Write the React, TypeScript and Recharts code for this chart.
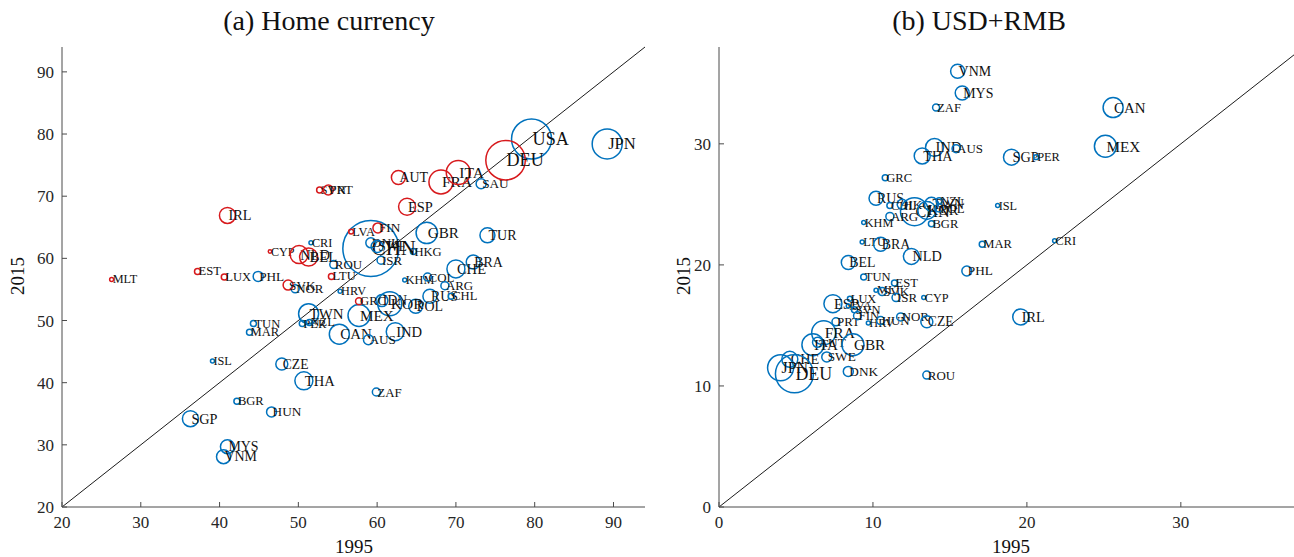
import React from "react";
import { ScatterChart, Scatter, XAxis, YAxis, ZAxis, ReferenceLine } from "recharts";

// ── Panel (a): home-currency share, 1995 vs 2015 ────────────────

const homeCodes = [
  "MLT", "EST", "LUX", "IRL", "CYP", "SVK", "NLD", "BEL", "SVN", "PRT",
  "LVA", "FIN", "LTU", "GRC", "AUT", "ESP", "FRA", "ITA", "DEU",
  "USA", "JPN", "SAU", "GBR", "TUR", "HKG", "CHN", "DNK", "SWE", "ISR",
  "BRA", "CHE", "KHM", "COL", "ARG", "RUS", "CHL", "POL", "IND", "IDN",
  "KOR", "MEX", "CAN", "AUS", "TWN", "PER", "NZL", "HRV", "NOR", "ROU",
  "CRI", "PHL", "TUN", "MAR", "ISL", "CZE", "THA", "ZAF", "BGR", "HUN",
  "SGP", "MYS", "VNM",
];
const home1995 = [
  26.3, 37.2, 40.6, 41.0, 46.4, 48.7, 50.1, 51.3, 52.7, 53.8,
  56.7, 60.1, 54.2, 57.7, 62.7, 63.8, 68.1, 70.3, 76.3,
  79.6, 89.2, 73.2, 66.3, 74.0, 64.6, 59.2, 59.2, 60.0, 60.5,
  72.2, 70.0, 63.5, 66.4, 68.6, 66.7, 69.4, 64.9, 62.3, 60.6,
  61.6, 57.7, 55.2, 58.9, 51.3, 50.5, 51.4, 55.3, 49.6, 54.5,
  51.6, 44.9, 44.3, 43.8, 39.1, 47.9, 50.7, 59.9, 42.2, 46.6,
  36.3, 41.0, 40.5,
];
const home2015 = [
  56.6, 57.9, 57.0, 66.9, 61.1, 55.7, 60.6, 60.2, 71.0, 71.0,
  64.3, 64.9, 57.1, 53.1, 73.0, 68.3, 72.3, 73.8, 75.8,
  79.2, 78.4, 72.0, 64.1, 63.7, 61.1, 61.6, 62.5, 61.9, 59.7,
  59.4, 58.3, 56.5, 57.0, 55.6, 53.9, 53.9, 52.3, 48.2, 53.2,
  52.7, 50.8, 47.8, 46.9, 51.1, 49.5, 49.7, 54.7, 55.1, 59.0,
  62.5, 57.1, 49.5, 48.1, 43.5, 43.0, 40.3, 38.5, 37.0, 35.3,
  34.2, 29.7, 28.1,
];
// bubble weight (trade volume, arbitrary units)
const homeWeight = [
  4, 9, 9, 64, 3, 25, 81, 81, 9, 25,
  6, 25, 9, 12, 49, 72, 144, 144, 390,
  400, 225, 25, 114, 56, 9, 784, 25, 36, 16,
  49, 81, 4, 16, 16, 49, 9, 49, 81, 36,
  144, 121, 100, 25, 100, 9, 9, 4, 16, 16,
  4, 25, 9, 9, 4, 36, 81, 16, 9, 25,
  64, 49, 49,
];
const euroArea = [
  "MLT", "EST", "LUX", "IRL", "CYP", "SVK", "NLD", "BEL", "SVN", "PRT",
  "LVA", "FIN", "LTU", "GRC", "AUT", "ESP", "FRA", "ITA", "DEU",
];

// ── Panel (b): USD+RMB share, 1995 vs 2015 ──────────────────────

const usdCodes = [
  "VNM", "MYS", "ZAF", "CAN", "MEX", "IND", "AUS", "THA", "SGP", "PER",
  "GRC", "RUS", "HKG", "CHL", "CHN", "TWN", "NZL", "KOR", "POL", "ISL",
  "ARG", "KHM", "BGR", "LTU", "BRA", "MAR", "CRI", "NLD", "BEL", "PHL",
  "TUN", "EST", "MLT", "SVK", "ISR", "CYP", "LUX", "ESP", "LVA", "SVN",
  "PRT", "FIN", "HRV", "HUN", "NOR", "CZE", "IRL", "FRA", "ITA", "AUT",
  "GBR", "SWE", "CHE", "DNK", "ROU", "JPN", "DEU",
];
const usd1995 = [
  15.5, 15.8, 14.1, 25.6, 25.1, 14.0, 15.4, 13.2, 19.0, 20.6,
  10.8, 10.2, 11.9, 11.1, 12.7, 13.8, 14.3, 13.5, 14.3, 18.1,
  11.1, 9.4, 13.8, 9.3, 10.5, 17.1, 21.8, 12.5, 8.4, 16.1,
  9.4, 11.4, 10.2, 10.6, 11.5, 13.3, 8.5, 7.4, 8.4, 8.8,
  7.6, 9.0, 9.7, 10.5, 11.8, 13.5, 19.6, 6.8, 6.1, 6.4,
  8.7, 7.0, 4.6, 8.4, 13.5, 4.0, 4.9,
];
const usd2015 = [
  36.0, 34.2, 33.0, 33.0, 29.8, 29.7, 29.6, 29.0, 28.9, 28.9,
  27.2, 25.5, 25.0, 24.9, 24.4, 25.0, 25.3, 24.5, 24.7, 24.9,
  24.0, 23.5, 23.4, 21.9, 21.7, 21.7, 22.0, 20.7, 20.2, 19.5,
  19.0, 18.5, 17.9, 17.8, 17.3, 17.3, 17.2, 16.8, 16.6, 16.3,
  15.3, 15.8, 15.2, 15.4, 15.7, 15.3, 15.7, 14.4, 13.4, 13.6,
  13.4, 12.4, 12.2, 11.2, 10.9, 11.5, 11.0,
];
const usdWeight = [
  49, 49, 12, 100, 121, 81, 16, 64, 64, 6,
  9, 49, 25, 9, 196, 49, 9, 81, 16, 4,
  16, 4, 9, 4, 49, 9, 4, 64, 49, 25,
  9, 9, 4, 16, 16, 4, 6, 81, 4, 9,
  16, 16, 4, 16, 16, 36, 64, 144, 121, 25,
  121, 25, 64, 25, 16, 169, 361,
];

const homeTicks = [20, 30, 40, 50, 60, 70, 80, 90];
const usdTicks = [0, 10, 20, 30];

const BLUE = "#0072BD";
const RED = "#D7191C";
const SERIF = "'Liberation Serif', 'Times New Roman', serif";
const AXIS = "#4a4a4a";

const homeRows = homeCodes.map((code, i) => ({
  code,
  x: home1995[i],
  y: home2015[i],
  w: homeWeight[i],
}));
const homeEuro = homeRows.filter((r) => euroArea.includes(r.code));
const homeOther = homeRows.filter((r) => !euroArea.includes(r.code));

const usdRows = usdCodes.map((code, i) => ({
  code,
  x: usd1995[i],
  y: usd2015[i],
  w: usdWeight[i],
}));

function Bubble(props: any) {
  const { cx, cy, width, payload, color } = props;
  if (cx == null || cy == null) return null;
  const r = width ? width / 2 : Math.sqrt(payload.w);
  const fs = 11.6 + 0.33 * r;
  return (
    <g>
      <circle cx={cx} cy={cy} r={Math.max(r, 1.3)} fill="none" stroke={color} strokeWidth={1.5} />
      <text
        x={cx + 1}
        y={cy}
        dominantBaseline="central"
        fontSize={fs}
        fontFamily={SERIF}
        fill="#111"
      >
        {payload.code}
      </text>
    </g>
  );
}

const tickStyle = { fill: "#262626", fontSize: 17, fontFamily: SERIF };

function Panel({
  width,
  domain,
  ticks,
  series,
}: {
  width: number;
  domain: [number, number];
  ticks: number[];
  series: { rows: any[]; color: string }[];
}) {
  return (
    <ScatterChart width={width} height={557} margin={{ top: 47, right: 15, bottom: 0, left: 0 }}>
      <XAxis
        type="number"
        dataKey="x"
        domain={domain}
        allowDataOverflow
        ticks={ticks}
        interval={0}
        height={50}
        tickSize={-5}
        tickMargin={14}
        tick={tickStyle}
        stroke={AXIS}
      />
      <XAxis
        xAxisId="top"
        orientation="top"
        type="number"
        domain={domain}
        allowDataOverflow
        ticks={ticks}
        interval={0}
        height={0}
        tickSize={-5}
        tick={false}
        stroke={AXIS}
      />
      <YAxis
        type="number"
        dataKey="y"
        domain={domain}
        allowDataOverflow
        ticks={ticks}
        interval={0}
        width={62}
        tickSize={-5}
        tickMargin={13}
        tick={tickStyle}
        stroke={AXIS}
      />
      <YAxis
        yAxisId="right"
        orientation="right"
        type="number"
        domain={domain}
        allowDataOverflow
        ticks={ticks}
        interval={0}
        width={0}
        tickSize={-5}
        tick={false}
        stroke={AXIS}
      />
      <ZAxis type="number" dataKey="w" domain={[0, 1000]} range={[0, 1000 * Math.PI]} />
      <ReferenceLine
        segment={[
          { x: domain[0], y: domain[0] },
          { x: domain[1], y: domain[1] },
        ]}
        stroke="#000"
        strokeWidth={0.9}
        ifOverflow="visible"
      />
      {series.map((s, i) => (
        <Scatter
          key={i}
          data={s.rows}
          isAnimationActive={false}
          shape={(p: any) => <Bubble {...p} color={s.color} />}
        />
      ))}
    </ScatterChart>
  );
}

export default function App() {
  return (
    <div
      style={{
        position: "absolute",
        left: 0,
        top: 0,
        width: 1294,
        height: 557,
        overflow: "hidden",
        background: "#fff",
      }}
    >
      <div style={{ position: "absolute", left: 0, top: 0 }}>
        <Panel
          width={660}
          domain={[20, 94]}
          ticks={homeTicks}
          series={[
            { rows: homeOther, color: BLUE },
            { rows: homeEuro, color: RED },
          ]}
        />
      </div>
      <div style={{ position: "absolute", left: 657, top: 0 }}>
        <Panel width={662} domain={[0, 38]} ticks={usdTicks} series={[{ rows: usdRows, color: BLUE }]} />
      </div>
      <svg
        width={1294}
        height={557}
        style={{ position: "absolute", left: 0, top: 0, pointerEvents: "none" }}
        fontFamily={SERIF}
        fill="#111"
      >
        <text x={329} y={30} fontSize={28} textAnchor="middle">
          (a) Home currency
        </text>
        <text x={979} y={30} fontSize={28} textAnchor="middle">
          (b) USD+RMB
        </text>
        <text x={354} y={553} fontSize={19} textAnchor="middle">
          1995
        </text>
        <text x={1011} y={553} fontSize={19} textAnchor="middle">
          1995
        </text>
        <text x={24} y={276} fontSize={19} textAnchor="middle" transform="rotate(-90 24 276)">
          2015
        </text>
        <text x={690} y={276} fontSize={19} textAnchor="middle" transform="rotate(-90 690 276)">
          2015
        </text>
      </svg>
    </div>
  );
}
